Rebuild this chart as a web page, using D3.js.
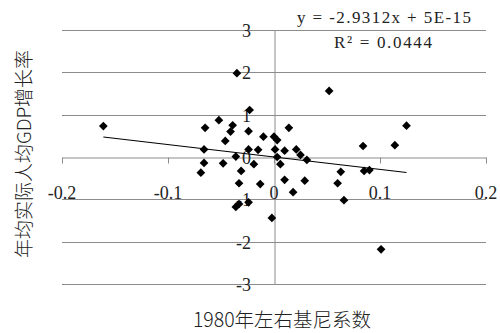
<!DOCTYPE html>
<html>
<head>
<meta charset="utf-8">
<script src="https://cdn.jsdelivr.net/npm/d3@7"></script>
<style>
  body { margin: 0; background: #fff; }
  svg { display: block; }
</style>
</head>
<body>
<div id="chart"></div>
<script>
const w = 500;
const h = 333;

const giniX = [-0.161, -0.035, -0.023, -0.065, -0.052, -0.039, -0.041, -0.046, -0.024, -0.010,
  0.000, 0.003, 0.014, -0.066, -0.024, -0.015, 0.001, 0.010, 0.021, 0.003,
  -0.066, -0.069, -0.048, -0.036, -0.031, -0.033, -0.019, -0.013, -0.024, -0.036,
  -0.033, -0.002, 0.006, 0.010, 0.018, 0.052, 0.125, 0.084, 0.114, 0.025,
  0.031, 0.063, 0.085, 0.090, 0.029, 0.060, 0.066, 0.101];
const growthY = [0.73, 1.98, 1.11, 0.69, 0.87, 0.75, 0.60, 0.38, 0.61, 0.48,
  0.48, 0.40, 0.69, 0.18, 0.18, 0.17, 0.18, 0.15, 0.18, 0.00,
  -0.14, -0.37, -0.15, 0.01, -0.33, -0.62, -0.17, -0.64, -1.07, -1.18,
  -1.11, -1.44, -0.17, -0.54, -0.83, 1.56, 0.74, 0.26, 0.28, 0.05,
  -0.07, -0.35, -0.33, -0.31, -0.56, -0.62, -1.02, -2.18];

const xTicks = [-0.2, -0.1, 0, 0.1, 0.2];
const yTicks = [-3, -2, -1, 0, 1, 2, 3];
const slope = -2.9312;
const intercept = 5e-15;
const eqText = "y = -2.9312x + 5E-15";
const r2Text = "R\u00B2 = 0.0444";
const xTitle = "1980年左右基尼系数";
const yTitle = "年均实际人均GDP增长率";

const points = giniX.map((x, i) => ({x: x, y: growthY[i]}));

const x = d3.scaleLinear().domain([-0.2, 0.2]).range([62, 486]);
const y = d3.scaleLinear().domain([-3, 3]).range([284, 30]);

const gridColor = "#8c8c8c";
const numFont = "'Liberation Serif', 'Times New Roman', serif";
const cjkFont = "'Noto Sans CJK SC', 'Noto Sans', sans-serif";

const svg = d3.select("#chart")
  .append("svg")
  .attr("width", w)
  .attr("height", h);

// horizontal gridlines
svg.append("g")
  .selectAll("line")
  .data(yTicks.filter(d => d !== 0))
  .enter()
  .append("line")
  .attr("x1", x(-0.2))
  .attr("x2", x(0.2))
  .attr("y1", d => Math.round(y(d)) + 0.5)
  .attr("y2", d => Math.round(y(d)) + 0.5)
  .style("stroke", gridColor)
  .style("stroke-width", 1);

// x axis crosses at y = 0
const xAxis = svg.append("g")
  .attr("transform", "translate(0," + (Math.round(y(0)) + 0.5) + ")")
  .call(d3.axisBottom(x).tickValues(xTicks).tickSize(6).tickSizeOuter(0).tickFormat(""));
xAxis.select(".domain").style("stroke", gridColor);
xAxis.selectAll(".tick line").style("stroke", gridColor);

// y axis crosses at x = 0
const yAxis = svg.append("g")
  .attr("transform", "translate(" + (Math.round(x(0)) + 0.5) + ",0)")
  .call(d3.axisLeft(y).tickValues(yTicks).tickSize(0).tickSizeOuter(0).tickFormat(""));
yAxis.select(".domain").style("stroke", gridColor);

// tick labels
svg.append("g")
  .selectAll("text")
  .data(xTicks)
  .enter()
  .append("text")
  .attr("x", d => x(d))
  .attr("y", 199)
  .attr("text-anchor", "middle")
  .style("font-family", numFont)
  .style("font-size", "18px")
  .style("fill", "#222")
  .text(d => String(d));

svg.append("g")
  .selectAll("text")
  .data(yTicks)
  .enter()
  .append("text")
  .attr("x", 251)
  .attr("y", d => y(d) + 7)
  .attr("text-anchor", "end")
  .style("font-family", numFont)
  .style("font-size", "18px")
  .style("fill", "#222")
  .text(d => String(d));

// trendline across the data range
const xr = d3.extent(giniX);
svg.append("path")
  .datum(xr.map(v => ({x: v, y: slope * v + intercept})))
  .attr("d", d3.line().x(d => x(d.x)).y(d => y(d.y)))
  .style("fill", "none")
  .style("stroke", "#000")
  .style("stroke-width", 1.2);

// diamond markers
svg.append("g")
  .selectAll("path")
  .data(points)
  .enter()
  .append("path")
  .attr("d", d3.symbol(d3.symbolSquare, 38))
  .attr("transform", d => "translate(" + x(d.x) + "," + y(d.y) + ") rotate(45)")
  .style("fill", "#000");

// equation labels
svg.append("text")
  .attr("x", 384)
  .attr("y", 23)
  .attr("text-anchor", "middle")
  .attr("textLength", 174)
  .attr("lengthAdjust", "spacing")
  .style("font-family", numFont)
  .style("font-size", "17px")
  .style("fill", "#222")
  .text(eqText);

svg.append("text")
  .attr("x", 383)
  .attr("y", 48)
  .attr("text-anchor", "middle")
  .attr("textLength", 98)
  .attr("lengthAdjust", "spacing")
  .style("font-family", numFont)
  .style("font-size", "17px")
  .style("fill", "#222")
  .text(r2Text);

// axis titles
svg.append("text")
  .attr("x", 282)
  .attr("y", 327)
  .attr("text-anchor", "middle")
  .style("font-family", cjkFont)
  .style("font-weight", 300)
  .style("font-size", "19.5px")
  .style("fill", "#222")
  .text(xTitle);

svg.append("text")
  .attr("transform", "translate(31,154) rotate(-90)")
  .attr("text-anchor", "middle")
  .style("font-family", cjkFont)
  .style("font-weight", 300)
  .style("font-size", "19px")
  .style("fill", "#222")
  .text(yTitle);
</script>
</body>
</html>
